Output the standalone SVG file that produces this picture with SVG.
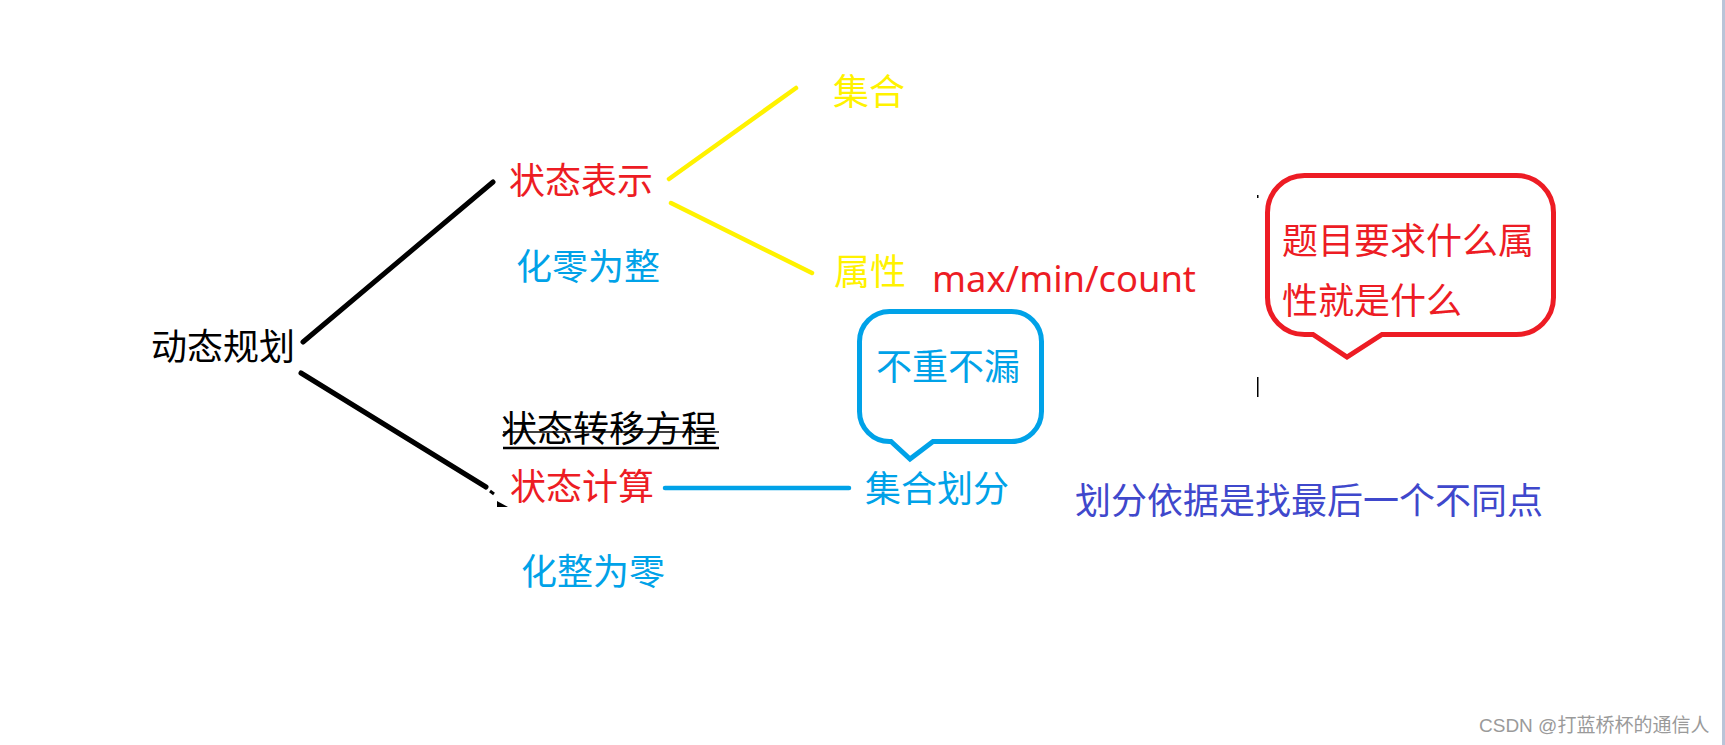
<svg xmlns="http://www.w3.org/2000/svg" width="1725" height="745" viewBox="0 0 1725 745">
<style>
text{font-family:"Noto Sans CJK SC","Microsoft YaHei",sans-serif;font-size:36px}
.k{fill:#000}.r{fill:#ED1C24}.b{fill:#00A2E8}.y{fill:#FFF200}.p{fill:#3F48CC}
.lk{stroke:#000;stroke-width:5;stroke-linecap:round;fill:none}
.ly{stroke:#FFF200;stroke-width:4.5;stroke-linecap:round;fill:none}
.lb{stroke:#00A2E8;stroke-width:4.5;stroke-linecap:round;fill:none}
.bub{fill:none;stroke-width:5;stroke-linejoin:miter}
.wm{font-family:"Liberation Sans","Noto Sans CJK SC",sans-serif;font-size:19px;fill:#9a9a9a}
</style>
<rect width="1725" height="745" fill="#fff"/>
<rect x="1722" y="0" width="3" height="745" fill="#b9c4d8"/>
<g id="connectors">
<line class="lk" x1="303" y1="342" x2="493" y2="182"/>
<line class="lk" x1="301" y1="373" x2="486" y2="487"/>
<line x1="490" y1="491" x2="494" y2="494" stroke="#000" stroke-width="3"/>
<polygon points="497,501 508,507 497,507" fill="#000"/>
<line class="ly" x1="669" y1="179" x2="796" y2="88"/>
<line class="ly" x1="671" y1="203" x2="812" y2="273"/>
<line class="lb" x1="665" y1="488" x2="849" y2="488"/>
</g>
<g id="n-dp"><text class="k" x="151" y="360">动态规划</text></g>
<g id="n-ztbs"><text class="r" x="509" y="194">状态表示</text></g>
<g id="n-hlwz"><text class="b" x="516" y="280">化零为整</text></g>
<g id="n-ztzy"><text class="k" x="501" y="442">状态转移方程</text>
<line x1="503" y1="448" x2="719" y2="448" stroke="#000" stroke-width="2.5"/>
<line x1="503" y1="432" x2="719" y2="432" stroke="#000" stroke-width="1.5"/></g>
<g id="n-ztjs"><text class="r" x="510" y="500">状态计算</text></g>
<g id="n-hzwl"><text class="b" x="521" y="585">化整为零</text></g>
<g id="n-jh"><text class="y" x="833" y="105">集合</text></g>
<g id="n-sx"><text class="y" x="834" y="285">属性</text></g>
<g id="n-max"><text class="r" x="932" y="292" style="font-family:'Noto Sans',sans-serif" textLength="264" lengthAdjust="spacingAndGlyphs">max/min/count</text></g>
<g id="n-bubble-blue">
<path class="bub" stroke="#00A2E8" d="M889.5,311.5 H1011.5 A30 30 0 0 1 1041.5,341.5 V411.5 A30 30 0 0 1 1011.5,441.5 H933 L910,459 L891,441.5 H889.5 A30 30 0 0 1 859.5,411.5 V341.5 A30 30 0 0 1 889.5,311.5 Z"/>
<text class="b" x="876" y="380">不重不漏</text></g>
<g id="n-jhhf"><text class="b" x="865" y="502">集合划分</text></g>
<g id="n-bubble-red">
<path class="bub" stroke="#ED1C24" d="M1304.5,175.5 H1516.5 A37 37 0 0 1 1553.5,212.5 V297.5 A37 37 0 0 1 1516.5,334.5 H1382 L1347,357 L1313,334.5 H1304.5 A37 37 0 0 1 1267.5,297.5 V212.5 A37 37 0 0 1 1304.5,175.5 Z"/>
<text class="r" x="1282" y="254">题目要求什么属</text>
<text class="r" x="1282" y="314">性就是什么</text></g>
<g id="marks"><rect x="1257" y="195" width="1.5" height="3" fill="#000"/><rect x="1257" y="377" width="1.5" height="20" fill="#000"/></g>
<g id="n-hfyj"><text class="p" x="1075" y="514">划分依据是找最后一个不同点</text></g>
<text class="wm" x="1479" y="732">CSDN @打蓝桥杯的通信人</text>
</svg>
